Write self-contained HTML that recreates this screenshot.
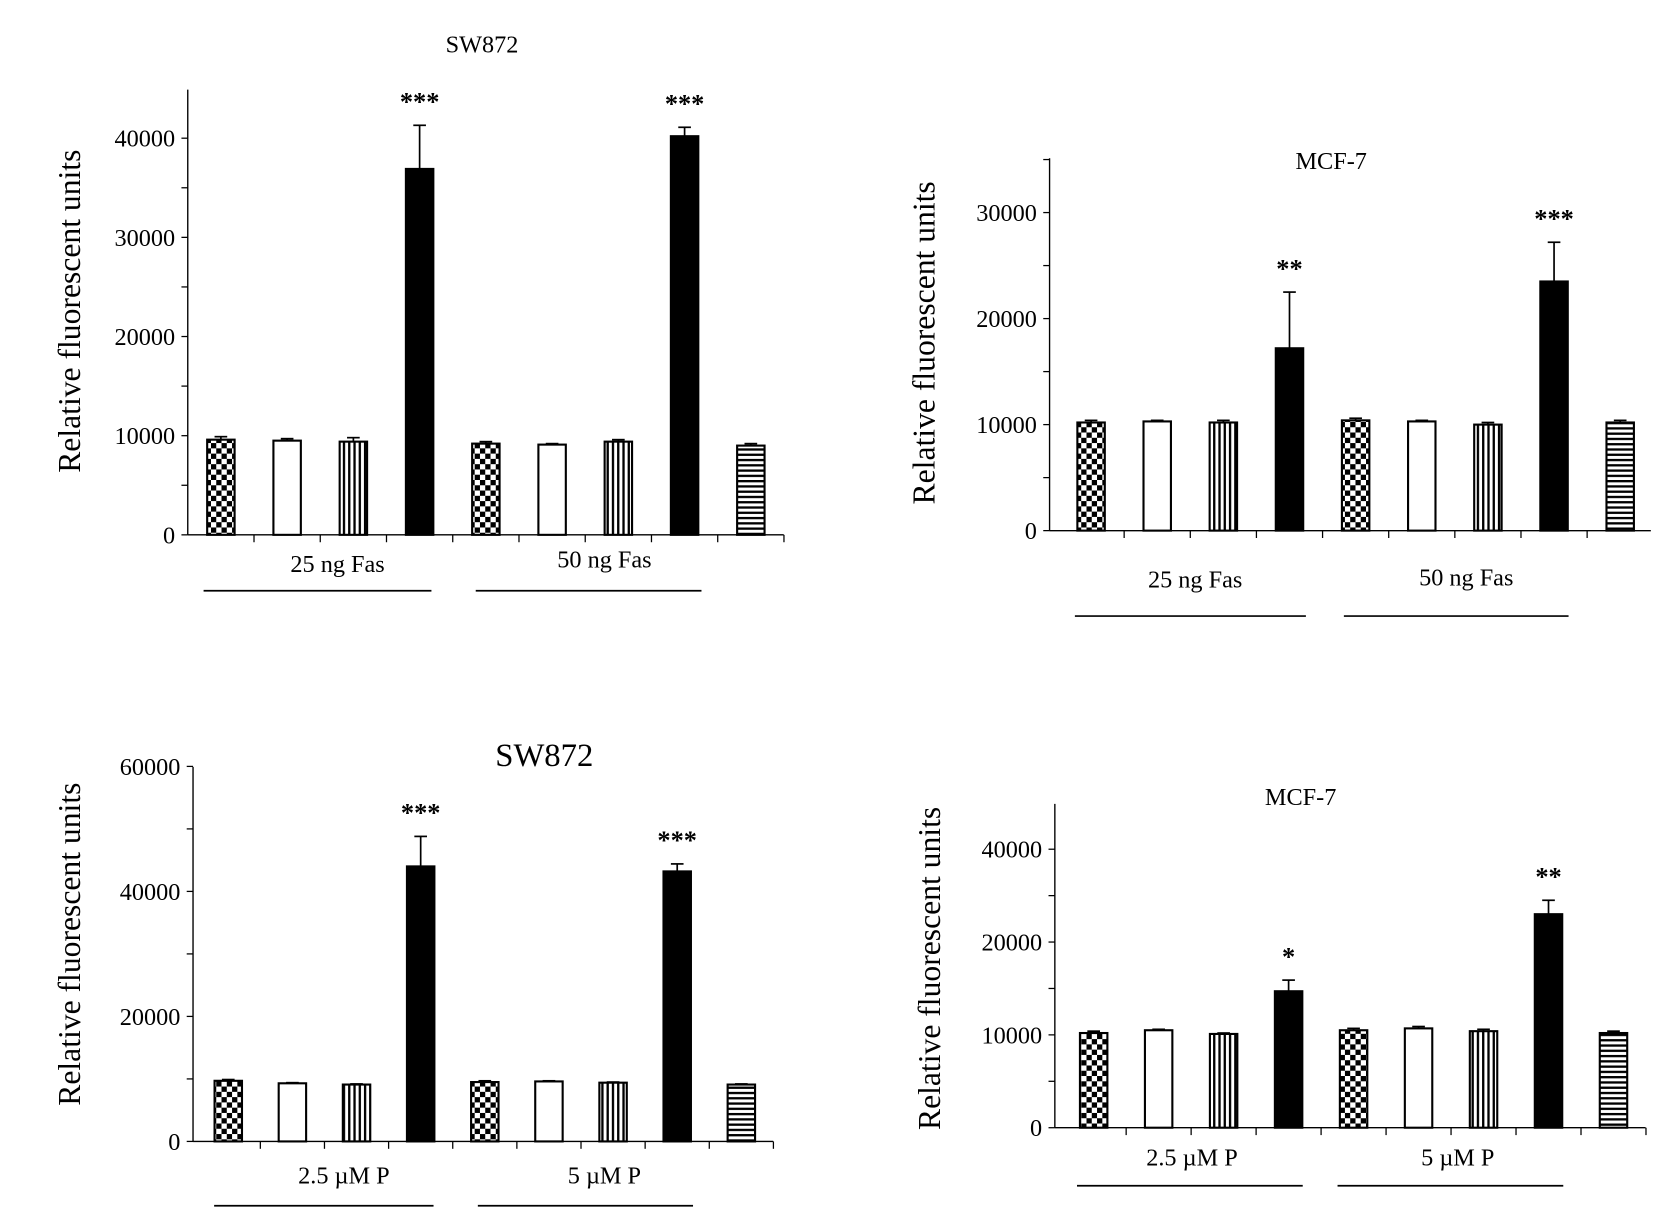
<!DOCTYPE html>
<html><head><meta charset="utf-8"><style>
html,body{margin:0;padding:0;background:#fff;}
svg{display:block;font-family:"Liberation Serif",serif;}
</style></head><body>
<svg id="fig" width="1654" height="1210" viewBox="0 0 1568 1147" preserveAspectRatio="none" xmlns="http://www.w3.org/2000/svg">
<defs>
<pattern id="p0" width="10" height="10" patternUnits="userSpaceOnUse"><rect width="10" height="10" fill="#fff"/><rect width="5" height="5" fill="#000"/><rect x="5" y="5" width="5" height="5" fill="#000"/></pattern>
<pattern id="p2" width="5" height="10" patternUnits="userSpaceOnUse"><rect width="5" height="10" fill="#fff"/><rect width="2.2" height="10" fill="#000"/></pattern>
<pattern id="p4" width="10" height="5" patternUnits="userSpaceOnUse"><rect width="10" height="5" fill="#fff"/><rect width="10" height="2.2" fill="#000"/></pattern>
</defs>
</svg>
<script>
// Panel A: SW872, Fas
const aValues=[9600,9500,9400,36900,9200,9100,9400,40200,9000];
const aErrors=[300,200,400,4400,200,100,200,900,200];
const aTicks=[0,10000,20000,30000,40000];
const aStars=["","","","***","","","","***",""];
// Panel B: MCF-7, Fas
const bValues=[10200,10300,10200,17200,10400,10300,10000,23500,10200];
const bErrors=[200,100,200,5300,200,100,200,3700,200];
const bTicks=[0,10000,20000,30000];
const bStars=["","","","**","","","","***",""];
// Panel C: SW872, P
const cValues=[9700,9300,9100,44000,9500,9600,9400,43200,9100];
const cErrors=[200,100,100,4800,200,100,100,1200,100];
const cTicks=[0,20000,40000,60000];
const cStars=["","","","***","","","","***",""];
// Panel D: MCF-7, P
const dValues=[10200,10500,10100,14700,10500,10700,10400,23000,10200];
const dErrors=[200,100,100,1200,200,200,200,1500,200];
const dTickValues=[0,10000,20000,30000];
const dTickLabels=["0","10000","20000","40000"];
const dStars=["","","","*","","","","**",""];

const fills=["url(#p0)","#fff","url(#p2)","#000","url(#p0)","#fff","url(#p2)","#000","url(#p4)"];
const NS="http://www.w3.org/2000/svg";
const svg=document.getElementById('fig');
function mk(tag,attrs,parent,text){const e=document.createElementNS(NS,tag);for(const k in attrs)e.setAttribute(k,attrs[k]);if(text!==undefined)e.textContent=text;(parent||svg).appendChild(e);return e;}

function panel(cfg){
  const g=mk('g',{});
  
  
  const y=v=>cfg.y0-(v/cfg.unit)*cfg.ppu;
  const bx=i=>cfg.x0+cfg.off+cfg.step*(i+0.5);
  const ya=mk('line',{x1:cfg.x0,y1:cfg.top,x2:cfg.x0,y2:cfg.y0,stroke:'#000','stroke-width':1.3},g);
  
  
  const xa=mk('line',{x1:cfg.x0,y1:cfg.y0,x2:cfg.xend,y2:cfg.y0,stroke:'#000','stroke-width':1.3},g);
  
  
  for(let v=0;y(v)>=cfg.top-0.5;v+=cfg.minor){mk('line',{x1:cfg.x0-6,y1:y(v),x2:cfg.x0,y2:y(v),stroke:'#000','stroke-width':1.2},g);}
  cfg.ticks.forEach((v,i)=>{
    const t=mk('text',{x:cfg.x0-12,y:y(v)+8,'text-anchor':'end','font-size':23},g,cfg.labels?cfg.labels[i]:String(v));
    
    
  });
  for(let i=1;i<=9;i++){const xx=cfg.x0+cfg.off+cfg.step*i; if(xx<=cfg.xend+1) mk('line',{x1:xx,y1:cfg.y0,x2:xx,y2:cfg.y0+7,stroke:'#000','stroke-width':1.2},g);}
  cfg.values.forEach((v,i)=>{
    const cx=bx(i),w=26;
    const top=y(v+cfg.errors[i]);
    const el=mk('line',{x1:cx,y1:y(v),x2:cx,y2:top,stroke:'#000','stroke-width':1.6},g);
    
    
    mk('line',{x1:cx-6,y1:top,x2:cx+6,y2:top,stroke:'#000','stroke-width':1.6},g);
    const r=mk('rect',{x:cx-w/2,y:y(v),width:w,height:cfg.y0-y(v),fill:fills[i],stroke:'#000','stroke-width':2},g);
    
    
    if(cfg.stars[i]){
      const s=mk('text',{x:cx,y:top-14,'text-anchor':'middle','font-size':25,'font-weight':'bold'},g,cfg.stars[i]);
      
      
    }
  });
  const ti=mk('text',{x:cfg.title[1],y:cfg.title[2],'text-anchor':'middle','font-size':cfg.title[3]},g,cfg.title[0]);
  
  
  const yl=mk('text',{x:0,y:0,'text-anchor':'middle','font-size':30,transform:`translate(${cfg.ylab[0]},${cfg.ylab[1]}) rotate(-90)`},g,'Relative fluorescent units');
  
  
  cfg.groups.forEach(gr=>{
    const t=mk('text',{x:gr[1],y:gr[2],'text-anchor':'middle','font-size':23},g,gr[0]);
    
    
    const l=mk('line',{x1:gr[3],y1:gr[5],x2:gr[4],y2:gr[5],stroke:'#000','stroke-width':1.6},g);
    
    
  });
}
panel({name:'panel-sw872-fas',x0:178,xend:743,off:0,y0:507,top:85,step:62.8,unit:10000,ppu:94,minor:5000,ticks:aTicks,values:aValues,errors:aErrors,stars:aStars,
  title:['SW872',457,50,23],ylab:[76,295],groups:[['25 ng Fas',320,542,193,409,560],['50 ng Fas',573,538,451,665,560]]});
panel({name:'panel-mcf7-fas',x0:995,xend:1565,off:8,y0:503,top:150,step:62.7,unit:10000,ppu:100.5,minor:5000,ticks:bTicks,values:bValues,errors:bErrors,stars:bStars,
  title:['MCF-7',1262,160,23],ylab:[886,325],groups:[['25 ng Fas',1133,557,1019,1238,584],['50 ng Fas',1390,555,1274,1487,584]]});
panel({name:'panel-sw872-p',x0:183,xend:733,off:3,y0:1082,top:727,step:60.8,unit:20000,ppu:118.5,minor:10000,ticks:cTicks,values:cValues,errors:cErrors,stars:cStars,
  title:['SW872',516,726,31],ylab:[76,895],groups:[['2.5 \u00b5M P',326,1122,203,411,1143],['5 \u00b5M P',573,1122,453,657,1143]]});
panel({name:'panel-mcf7-p',x0:1000,xend:1560,off:6,y0:1069,top:762,step:61.6,unit:10000,ppu:88,minor:5000,ticks:dTickValues,labels:dTickLabels,values:dValues,errors:dErrors,stars:dStars,
  title:['MCF-7',1233,763,23],ylab:[891,918],groups:[['2.5 \u00b5M P',1130,1105,1021,1235,1124],['5 \u00b5M P',1382,1105,1268,1482,1124]]});
</script>
</body></html>
